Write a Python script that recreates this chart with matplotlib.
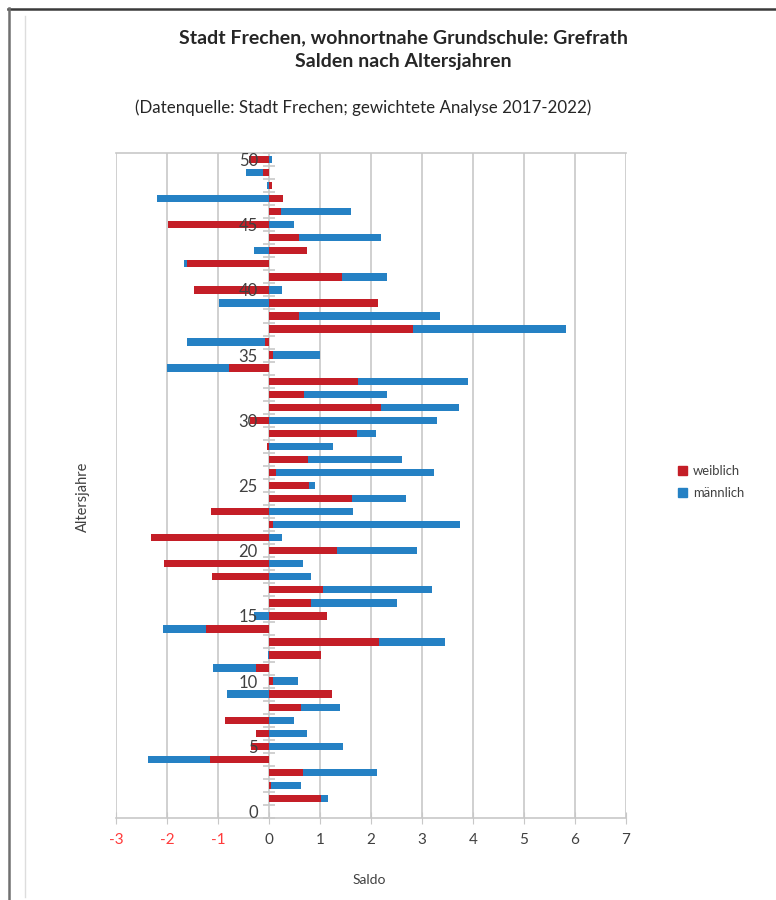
import numpy as np
import matplotlib
matplotlib.use("Agg")
import matplotlib.pyplot as plt
from matplotlib.patches import Patch
from matplotlib.lines import Line2D

plt.rcParams['font.family'] = ['Lato', 'DejaVu Sans']

ages = np.arange(0, 51)
# age 0 .. 50
weiblich = [0.0, 1.02, 0.04, 0.67, -1.16, -0.35, -0.25, -0.86, 0.63, 1.24,
            0.08, -0.26, 1.02, 2.16, -1.24, 1.14, 0.82, 1.06, -1.12, -2.06,
            1.33, -2.31, 0.08, -1.14, 1.63, 0.78, 0.14, 0.76, -0.04, 1.73,
            -0.37, 2.20, 0.69, 1.75, -0.78, 0.08, -0.08, 2.82, 0.59, 2.14,
            -1.47, 1.43, -1.60, 0.75, 0.59, -1.98, 0.24, 0.27, 0.05, -0.12,
            -0.40]
maennlich = [0.0, 0.14, 0.59, 1.45, -1.22, 1.45, 0.75, 0.49, 0.76, -0.82,
             0.49, -0.84, -0.02, 1.29, -0.84, -0.30, 1.69, 2.14, 0.82, 0.67,
             1.57, 0.25, 3.67, 1.65, 1.06, 0.12, 3.10, 1.84, 1.25, 0.37,
             3.29, 1.53, 1.63, 2.16, -1.22, 0.92, -1.53, 3.00, 2.76, -0.98,
             0.25, 0.88, -0.07, -0.29, 1.61, 0.49, 1.37, -2.20, -0.03, -0.33,
             0.05]
x_ticks = [-3, -2, -1, 0, 1, 2, 3, 4, 5, 6, 7]
y_ticks = [0, 5, 10, 15, 20, 25, 30, 35, 40, 45, 50]

red = "#C41E27"
blue = "#2581C4"
text_col = "#404040"
grid_col = "#C8C8C8"

w = np.array(weiblich)
m = np.array(maennlich)
# excel-like stacking: positives on positives, negatives on negatives
m_left = np.where(np.sign(m) == np.sign(w), w, 0.0)

fig = plt.figure(figsize=(7.76, 9.0), dpi=100)
ax = fig.add_axes([116 / 776, 1 - 818 / 900, 510 / 776, 665 / 900])
ax.set_axisbelow(False)  # tick labels over the bars, like the original

for xt in x_ticks:
    ax.axvline(xt, color=grid_col, linewidth=1.2, zorder=0.5)

ax.barh(ages, w, height=0.56, color=red, label="weiblich", zorder=2)
ax.barh(ages, m, left=m_left, height=0.56, color=blue, label="männlich", zorder=2)

ax.set_xlim(-3, 7)
ax.set_ylim(-0.5, 50.5)
ax.set_xticks(x_ticks)
ax.set_xticklabels([str(t) for t in x_ticks])
for lbl, t in zip(ax.get_xticklabels(), x_ticks):
    lbl.set_color("#FF3B3B" if t < 0 else text_col)
ax.tick_params(axis='x', direction='inout', length=8, color=grid_col,
               labelsize=11, pad=7)

ax.spines['left'].set_position(('data', 0))
ax.spines['left'].set_visible(False)
ax.spines['right'].set_visible(False)
ax.spines['top'].set_color(grid_col)
ax.spines['bottom'].set_color(grid_col)
ax.spines['top'].set_linewidth(1.2)
ax.spines['bottom'].set_linewidth(1.2)

ax.set_yticks(y_ticks)
ax.set_yticks(np.arange(-0.5, 51, 1), minor=True)
ax.tick_params(axis='y', which='major', length=0, labelsize=12,
               labelcolor=text_col, pad=8)
ax.tick_params(axis='y', which='minor', direction='inout', length=9,
               color=grid_col, width=1.2)

fig.text(369 / 776, 1 - 880 / 900, "Saldo", fontsize=10, color=text_col,
         ha='center', va='center')
fig.text(83 / 776, 1 - 497 / 900, "Altersjahre", rotation=90, fontsize=10.5,
         color=text_col, ha='center', va='center')

fig.text(403 / 776, 1 - 38 / 900, "Stadt Frechen, wohnortnahe Grundschule: Grefrath",
         fontsize=14, fontweight='bold', color="#262626", ha='center', va='center')
fig.text(403 / 776, 1 - 61 / 900, "Salden nach Altersjahren",
         fontsize=14, fontweight='bold', color="#262626", ha='center', va='center')
fig.text(363 / 776, 1 - 108 / 900,
         "(Datenquelle: Stadt Frechen; gewichtete Analyse 2017-2022)",
         fontsize=12.2, color="#262626", ha='center', va='center')

handles = [Patch(color=red, label="weiblich"), Patch(color=blue, label="männlich")]
fig.legend(handles=handles, loc='center left',
           bbox_to_anchor=(666 / 776, 1 - 482 / 900), frameon=False,
           fontsize=9.4, handlelength=0.7, handleheight=0.7, handletextpad=0.45,
           labelspacing=0.8, labelcolor=text_col)

# outer frame lines
fig.add_artist(Line2D([8 / 776, 1], [1 - 8.5 / 900, 1 - 8.5 / 900],
                      color="#3A3A3A", linewidth=1.8, transform=fig.transFigure))
fig.add_artist(Line2D([8.5 / 776, 8.5 / 776], [0, 1 - 8 / 900],
                      color="#707070", linewidth=1.8, transform=fig.transFigure))
fig.add_artist(Line2D([25 / 776, 25 / 776], [1 - 897 / 900, 1 - 16 / 900],
                      color="#DDDDDD", linewidth=1.0, transform=fig.transFigure))

fig.savefig("out.png", dpi=100)
